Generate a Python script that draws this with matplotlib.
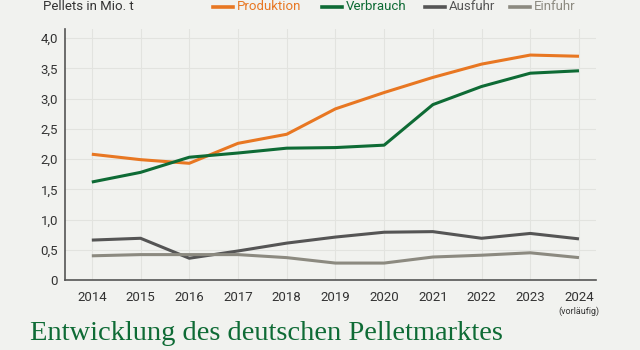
import matplotlib
matplotlib.use("Agg")
import matplotlib.pyplot as plt
from matplotlib.lines import Line2D

# ─── Data (Mio. t) ────────────────────────────────────────────
years = [2014, 2015, 2016, 2017, 2018, 2019, 2020, 2021, 2022, 2023, 2024]
produktion = [2.08, 1.99, 1.93, 2.26, 2.41, 2.83, 3.10, 3.35, 3.57, 3.72, 3.70]
verbrauch = [1.62, 1.78, 2.03, 2.10, 2.18, 2.19, 2.23, 2.90, 3.20, 3.42, 3.46]
ausfuhr = [0.66, 0.69, 0.36, 0.48, 0.61, 0.71, 0.79, 0.80, 0.69, 0.77, 0.68]
einfuhr = [0.40, 0.42, 0.42, 0.42, 0.37, 0.28, 0.28, 0.38, 0.41, 0.45, 0.37]
series_names = ["Produktion", "Verbrauch", "Ausfuhr", "Einfuhr"]
yticks = [0, 0.5, 1.0, 1.5, 2.0, 2.5, 3.0, 3.5, 4.0]
ytick_labels = ["0", "0,5", "1,0", "1,5", "2,0", "2,5", "3,0", "3,5", "4,0"]

BG = "#f1f2ef"
colors = ["#e87722", "#0e6b35", "#555555", "#8c8a80"]
plt.rcParams["font.family"] = ["Roboto", "DejaVu Sans"]

fig = plt.figure(figsize=(6.4, 3.5), dpi=100, facecolor=BG)
ax = fig.add_axes([0.1016, 0.2, 0.8297, 0.717], facecolor=BG)

for vals, c in zip([produktion, verbrauch, ausfuhr, einfuhr], colors):
    ax.plot(years, vals, color=c, linewidth=2.2, solid_capstyle="butt",
            zorder=3)

ax.set_xlim(2013.45, 2024.35)
ax.set_ylim(0, 4.15)
ax.set_xticks(years)
ax.set_xticklabels([str(y) for y in years], fontsize=9.5, color="#333333")
ax.set_yticks(yticks)
ax.set_yticklabels(ytick_labels, fontsize=9.5, color="#333333")
ax.tick_params(length=0, pad=5)
ax.tick_params(axis="x", pad=8)
ax.grid(True, color="#e2e3df", linewidth=0.8, zorder=0)
for side in ["top", "right"]:
    ax.spines[side].set_visible(False)
for side in ["left", "bottom"]:
    ax.spines[side].set_color("#555555")
    ax.spines[side].set_linewidth(1.2)

ax.text(2024, -0.44, "(vorläufig)", fontsize=6.5, color="#333333",
        ha="center", va="top")

# ─── Top header / legend ───────────────────────────────────────────
fig.text(43 / 640, 1 - 6 / 350, "Pellets in Mio. t", fontsize=9.5,
         color="#333333", ha="left", va="center")
leg_x = [213, 322, 425, 510]
for x0, name, c in zip(leg_x, series_names, colors):
    fig.add_artist(Line2D([x0 / 640, (x0 + 20) / 640],
                          [1 - 7 / 350, 1 - 7 / 350],
                          color=c, linewidth=2.6,
                          transform=fig.transFigure))
    fig.text((x0 + 24) / 640, 1 - 6 / 350, name, fontsize=9.5, color=c,
             ha="left", va="center")

fig.text(30 / 640, 1 - 333 / 350, "Entwicklung des deutschen Pelletmarktes",
         fontsize=20.5, color="#0e6b35", ha="left", va="center",
         family=["Liberation Serif", "DejaVu Serif"])

fig.savefig("out.png", dpi=100, facecolor=BG)
